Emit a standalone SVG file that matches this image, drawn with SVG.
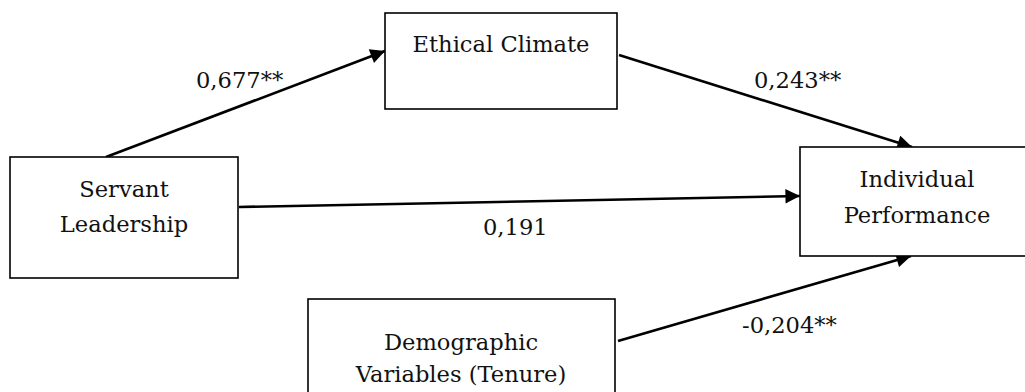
<svg xmlns="http://www.w3.org/2000/svg" width="1025" height="392" viewBox="0 0 1025 392">
<style>
.box{fill:#fff;stroke:#000;stroke-width:1.6}
.t{font-family:"DejaVu Serif","Liberation Serif",serif;font-size:22.6px;fill:#111;text-anchor:middle}
.lbl{font-family:"DejaVu Serif","Liberation Serif",serif;font-size:22.6px;fill:#111}
.c{stroke:#000;stroke-width:2.6;fill:none;marker-end:url(#ah)}
</style>
<defs>
<marker id="ah" viewBox="0 0 10 10" refX="10" refY="5" markerWidth="6" markerHeight="5.6" orient="auto" markerUnits="strokeWidth">
<path d="M0,0 L10,5 L0,10 z" fill="#000"/>
</marker>
</defs>
<rect width="1025" height="392" fill="#fff"/>
<g id="connectors">
<line class="c" x1="106" y1="157" x2="385" y2="51"/>
<line class="c" x1="619" y1="55" x2="912" y2="147"/>
<line class="c" x1="239" y1="207" x2="800" y2="196"/>
<line class="c" x1="618" y1="341" x2="911" y2="256"/>
</g>
<g id="labels">
<text class="lbl" x="196" y="88">0,677**</text>
<text class="lbl" x="754" y="88">0,243**</text>
<text class="lbl" x="483" y="235">0,191</text>
<text class="lbl" x="742" y="333">-0,204**</text>
</g>
<g id="ethical-climate">
<rect class="box" x="385" y="13" width="232" height="96"/>
<text class="t" x="501" y="52">Ethical Climate</text>
</g>
<g id="servant-leadership">
<rect class="box" x="10" y="157" width="228" height="121"/>
<text class="t" x="124" y="197">Servant</text>
<text class="t" x="124" y="232">Leadership</text>
</g>
<g id="individual-performance">
<rect class="box" x="800" y="147" width="236" height="109"/>
<text class="t" x="917" y="187">Individual</text>
<text class="t" x="917" y="223">Performance</text>
</g>
<g id="demographic-variables">
<rect class="box" x="308" y="299" width="307" height="100"/>
<text class="t" x="461" y="350">Demographic</text>
<text class="t" x="461" y="382">Variables (Tenure)</text>
</g>
</svg>
